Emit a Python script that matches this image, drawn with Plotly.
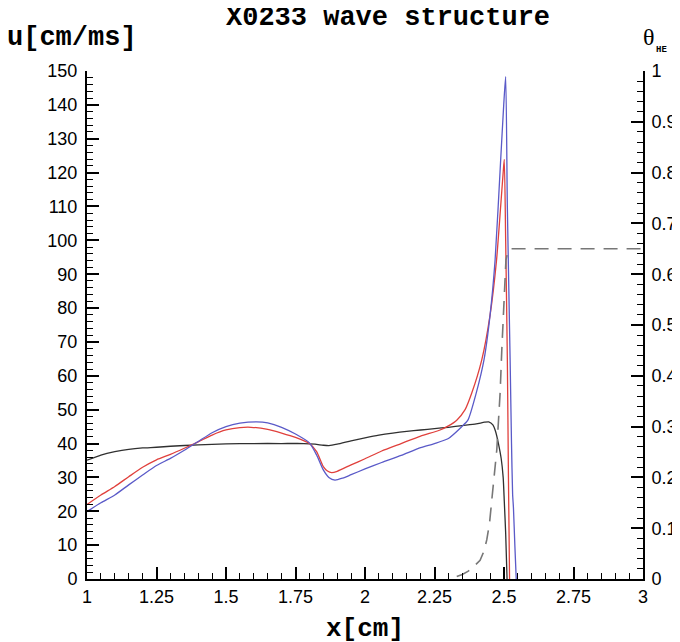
import plotly.graph_objects as go

# ---- data ----
black_x = [1.0, 1.05, 1.1, 1.15, 1.2, 1.25, 1.3, 1.4, 1.5, 1.6, 1.7, 1.78, 1.82, 1.85, 1.87,
           1.9, 1.95, 2.0, 2.05, 2.1, 2.15, 2.2, 2.25, 2.3, 2.35, 2.4, 2.43, 2.445, 2.46,
           2.47, 2.48, 2.49, 2.497, 2.501, 2.506, 2.511]
black_u = [35.1, 36.6, 37.6, 38.3, 38.7, 38.9, 39.2, 39.6, 39.9, 40.0, 40.0, 40.0, 39.8, 39.5, 39.4,
           39.8, 40.8, 41.7, 42.5, 43.1, 43.6, 44.0, 44.4, 44.8, 45.3, 45.8, 46.3, 46.4, 45.5,
           43.5, 40.0, 35.5, 30.0, 23.0, 13.5, 0.0]

red_x = [1.0, 1.05, 1.1, 1.15, 1.2, 1.25, 1.3, 1.35, 1.4, 1.45, 1.5, 1.55, 1.59, 1.65, 1.7,
         1.75, 1.8, 1.826, 1.85, 1.865, 1.88, 1.9, 1.95, 2.0, 2.06, 2.13, 2.2, 2.27, 2.3,
         2.33, 2.36, 2.384, 2.42, 2.45, 2.473, 2.488, 2.497, 2.501, 2.506, 2.512, 2.516, 2.52]
red_u = [22.0, 24.8, 27.3, 30.2, 33.0, 35.2, 36.8, 38.6, 40.5, 42.5, 44.0, 44.7, 44.8, 44.2, 43.1,
         41.8, 40.0, 37.6, 33.2, 31.9, 31.4, 31.8, 33.7, 35.5, 37.8, 40.0, 42.2, 44.0, 45.2,
         46.9, 50.0, 54.9, 64.7, 78.0, 94.0, 110.0, 120.0, 123.9, 100.0, 65.0, 30.0, 0.0]

blue_x = [1.0, 1.05, 1.1, 1.15, 1.2, 1.25, 1.3, 1.35, 1.4, 1.45, 1.5, 1.55, 1.61, 1.65, 1.7,
          1.75, 1.8, 1.826, 1.85, 1.87, 1.892, 1.92, 1.95, 2.0, 2.06, 2.13, 2.2, 2.25, 2.3,
          2.347, 2.37, 2.4, 2.428, 2.45, 2.468, 2.488, 2.499, 2.506, 2.512, 2.522, 2.527,
          2.531, 2.534, 2.539, 2.544]
blue_u = [19.9, 22.5, 24.8, 27.8, 30.7, 33.5, 35.6, 38.0, 40.6, 43.2, 45.0, 46.0, 46.4, 46.1, 44.8,
          42.8, 40.2, 36.6, 32.2, 30.0, 29.2, 29.8, 30.8, 32.5, 34.4, 36.5, 38.8, 40.0, 41.5,
          44.9, 46.9, 54.9, 64.7, 78.0, 94.2, 123.7, 140.0, 148.3, 110.0, 64.7, 40.0,
          25.0, 21.0, 10.0, 0.0]

theta_x = [2.33, 2.35, 2.37, 2.39, 2.414, 2.428, 2.438, 2.448, 2.456, 2.465, 2.474, 2.48,
           2.486, 2.492, 2.5, 2.507, 2.515, 2.52, 3.0]
theta_v = [0.005, 0.009, 0.015, 0.024, 0.037, 0.055, 0.077, 0.11, 0.155, 0.2, 0.254, 0.31,
           0.366, 0.45, 0.55, 0.628, 0.647, 0.65, 0.65]

x_ticks = [1, 1.25, 1.5, 1.75, 2, 2.25, 2.5, 2.75, 3]
x_tick_labels = ["1", "1.25", "1.5", "1.75", "2", "2.25", "2.5", "2.75", "3"]

title_text = "X0233 wave structure"
u_label = "u[cm/ms]"
x_label = "x[cm]"

# ---- figure ----
fig = go.Figure()
fig.add_trace(go.Scatter(x=theta_x, y=theta_v, mode="lines", yaxis="y2",
                         line=dict(color="#777777", width=1.6, dash="14px,9px")))
fig.add_trace(go.Scatter(x=black_x, y=black_u, mode="lines",
                         line=dict(color="#303030", width=1.3, shape="spline", smoothing=0.6)))
fig.add_trace(go.Scatter(x=red_x, y=red_u, mode="lines",
                         line=dict(color="#e0403c", width=1.3, shape="spline", smoothing=0.6)))
fig.add_trace(go.Scatter(x=blue_x, y=blue_u, mode="lines",
                         line=dict(color="#5a5ac8", width=1.3, shape="spline", smoothing=0.6)))

tickfont = dict(family="Liberation Sans, Arial, sans-serif", size=18, color="black")
mono = "Liberation Mono, Courier New, monospace"

common = dict(ticks="inside", ticklen=12, tickwidth=2, tickcolor="black",
              showline=True, linewidth=2, linecolor="black", showgrid=False,
              zeroline=False, tickfont=tickfont, automargin=False)

# the page body has an 8px margin, so the figure is 8px smaller than the window
fig.update_layout(
    width=672, height=634,
    margin=dict(l=79, r=37, t=63, b=63, autoexpand=False),
    paper_bgcolor="white", plot_bgcolor="white",
    showlegend=False,
    xaxis=dict(range=[1, 3], tickvals=x_ticks, ticktext=x_tick_labels,
               minor=dict(ticks="inside", ticklen=6, tickwidth=1, tickcolor="black",
                          dtick=0.05, tick0=1, showgrid=False), **common),
    yaxis=dict(range=[0, 150], dtick=10, tick0=0, ticklabelstandoff=4,
               minor=dict(ticks="inside", ticklen=6, tickwidth=1, tickcolor="black",
                          dtick=2, tick0=0, showgrid=False), **common),
    yaxis2=dict(range=[0, 1], dtick=0.1, tick0=0, overlaying="y", side="right",
                ticklabelstandoff=3,
                minor=dict(ticks="inside", ticklen=6, tickwidth=1, tickcolor="black",
                           dtick=0.02, tick0=0, showgrid=False), **common),
)

fig.add_annotation(text="<b>" + title_text + "</b>", xref="paper", yref="paper",
                   x=0.541, y=1.0, yshift=53, showarrow=False, xanchor="center", yanchor="middle",
                   font=dict(family=mono, size=27, color="black"))
fig.add_annotation(text="<b>" + u_label + "</b>", xref="paper", yref="paper",
                   x=0, xshift=-82, y=1.0, yshift=33, showarrow=False, xanchor="left",
                   yanchor="middle", font=dict(family=mono, size=27, color="black"))
fig.add_annotation(text="<b>" + x_label + "</b>", xref="paper", yref="paper",
                   x=0.5, y=0, yshift=-50, showarrow=False, xanchor="center",
                   yanchor="middle", font=dict(family=mono, size=26, color="black"))
fig.add_annotation(text="θ", xref="paper", yref="paper",
                   x=1.0, xshift=5.5, y=1.0, yshift=34.5, showarrow=False, xanchor="center",
                   yanchor="middle", font=dict(family="Liberation Serif, Times New Roman, serif",
                                                size=24, color="black"))
fig.add_annotation(text="<b>HE</b>", xref="paper", yref="paper",
                   x=1.0, xshift=18, y=1.0, yshift=21.5, showarrow=False, xanchor="center",
                   yanchor="middle", font=dict(family=mono, size=9, color="black"))

fig.write_html("out.html")
